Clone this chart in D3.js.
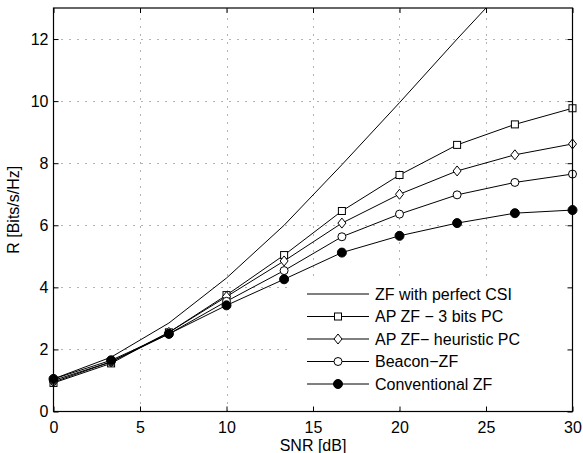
<!DOCTYPE html>
<html><head><meta charset="utf-8">
<script src="https://cdn.jsdelivr.net/npm/d3@7"></script>
<style>body{margin:0;background:#fff}svg{display:block}text{font-family:"Liberation Sans",Arial,Helvetica,sans-serif;fill:#000}</style>
</head><body>
<script>
const snr = [0, 3.33, 6.67, 10, 13.33, 16.67, 20, 23.33, 26.67, 30];
const perfectCSI = [1.05, 1.75, 2.85, 4.3, 6.0, 7.95, 9.95, 12.0, 14.0, 16.0];
const ap3bits = [0.92, 1.55, 2.55, 3.75, 5.04, 6.46, 7.62, 8.59, 9.25, 9.77];
const apHeuristic = [0.95, 1.6, 2.55, 3.7, 4.85, 6.07, 7.0, 7.75, 8.27, 8.62];
const beacon = [1.0, 1.6, 2.5, 3.55, 4.54, 5.63, 6.36, 6.98, 7.38, 7.65];
const conventional = [1.05, 1.65, 2.5, 3.42, 4.26, 5.12, 5.66, 6.07, 6.39, 6.49];
const xTicks = [0, 5, 10, 15, 20, 25, 30];
const yTicks = [0, 2, 4, 6, 8, 10, 12];
const seriesNames = ["ZF with perfect CSI", "AP ZF \u2212 3 bits PC", "AP ZF\u2212 heuristic PC", "Beacon\u2212ZF", "Conventional ZF"];
const seriesMarkers = ["none", "square", "diamond", "circle", "filled"];
const seriesValues = [perfectCSI, ap3bits, apHeuristic, beacon, conventional];

const W = 583, H = 453;
const m = {l: 53.5, t: 8, r: 10.5, b: 41.5};
const svg = d3.select("body").append("svg").attr("width", W).attr("height", H);
const x = d3.scaleLinear().domain([0, 30]).range([m.l, W - m.r]);
const y = d3.scaleLinear().domain([0, 13]).range([H - m.b, m.t]);
const FS = 16;

svg.append("defs").append("clipPath").attr("id", "clip").append("rect")
  .attr("x", m.l).attr("y", m.t).attr("width", x(30) - m.l).attr("height", y(0) - m.t);

// grid
const grid = svg.append("g").attr("stroke", "#000").attr("stroke-width", 0.8).attr("stroke-dasharray", "1,7").attr("opacity", 0.75);
xTicks.slice(1, -1).forEach(t => grid.append("line").attr("x1", Math.round(x(t)) + 0.5).attr("x2", Math.round(x(t)) + 0.5).attr("y1", y(0)).attr("y2", y(13)));
yTicks.slice(1).forEach(t => grid.append("line").attr("y1", Math.round(y(t)) + 0.5).attr("y2", Math.round(y(t)) + 0.5).attr("x1", x(0)).attr("x2", x(30)));

// axes with inner ticks on all sides
const tl = 5;
svg.append("g").attr("transform", `translate(0,${y(0)})`)
  .call(d3.axisBottom(x).tickValues(xTicks).tickSizeInner(-tl).tickSizeOuter(0).tickPadding(10))
  .call(g => { g.select(".domain").remove(); g.selectAll("text").attr("font-size", FS).attr("font-family", "Liberation Sans, Arial"); });
svg.append("g").attr("transform", `translate(0,${y(13)})`)
  .call(d3.axisTop(x).tickValues(xTicks).tickSizeInner(-tl).tickSizeOuter(0).tickFormat(""))
  .call(g => g.select(".domain").remove());
svg.append("g").attr("transform", `translate(${x(0)},0)`)
  .call(d3.axisLeft(y).tickValues(yTicks).tickSizeInner(-tl).tickSizeOuter(0).tickPadding(5))
  .call(g => { g.select(".domain").remove(); g.selectAll("text").attr("font-size", FS).attr("font-family", "Liberation Sans, Arial"); });
svg.append("g").attr("transform", `translate(${x(30)},0)`)
  .call(d3.axisRight(y).tickValues(yTicks).tickSizeInner(-tl).tickSizeOuter(0).tickFormat(""))
  .call(g => g.select(".domain").remove());

// plot lines
const line = d3.line().x((d, i) => x(snr[i])).y(d => y(d));
const plot = svg.append("g").attr("clip-path", "url(#clip)");
function marker(g, type, cx, cy) {
  if (type === "square") g.append("rect").attr("x", cx - 3.5).attr("y", cy - 3.5).attr("width", 7).attr("height", 7).attr("fill", "#fff").attr("stroke", "#000");
  else if (type === "diamond") g.append("path").attr("d", `M${cx},${cy - 5}L${cx + 4},${cy}L${cx},${cy + 5}L${cx - 4},${cy}Z`).attr("fill", "#fff").attr("stroke", "#000");
  else if (type === "circle") g.append("circle").attr("cx", cx).attr("cy", cy).attr("r", 4).attr("fill", "#fff").attr("stroke", "#000");
  else if (type === "filled") g.append("circle").attr("cx", cx).attr("cy", cy).attr("r", 4.5).attr("fill", "#000").attr("stroke", "#000");
}
seriesValues.forEach((vals, k) => {
  plot.append("path").attr("d", line(vals)).attr("fill", "none").attr("stroke", "#000").attr("stroke-width", 1);
});
const mk = svg.append("g");
seriesValues.forEach((vals, k) => {
  if (seriesMarkers[k] === "none") return;
  vals.forEach((v, i) => marker(mk, seriesMarkers[k], x(snr[i]), y(v)));
});

// frame
svg.append("rect").attr("x", x(0)).attr("y", y(13)).attr("width", x(30) - x(0)).attr("height", y(0) - y(13))
  .attr("fill", "none").attr("stroke", "#000").attr("stroke-width", 1.2);

// legend
const lg = svg.append("g");
lg.append("rect").attr("x", 292).attr("y", 277).attr("width", 275).attr("height", 127).attr("fill", "#fff");
seriesNames.forEach((name, k) => {
  const ly = 294 + k * 22.5;
  lg.append("line").attr("x1", 307).attr("x2", 369).attr("y1", ly).attr("y2", ly).attr("stroke", "#000");
  marker(lg, seriesMarkers[k], 338, ly);
  lg.append("text").attr("x", 375).attr("y", ly).attr("dy", "0.35em").attr("font-size", FS).text(name);
});

// labels
svg.append("text").attr("x", x(15)).attr("y", 451).attr("text-anchor", "middle").attr("font-size", FS).text("SNR [dB]");
svg.append("text").attr("transform", `translate(19,${y(6.5)}) rotate(-90)`).attr("text-anchor", "middle").attr("font-size", FS).text("R [Bits/s/Hz]");
</script>
</body></html>
